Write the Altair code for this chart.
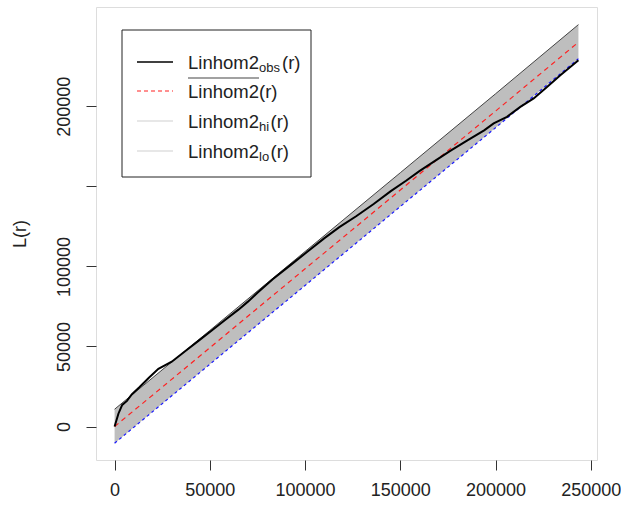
import altair as alt
import pandas as pd

# Distance values r and the observed inhomogeneous L-function
r_obs = [0, 2000, 4000, 6500, 9000, 13000, 18000, 23000, 30000, 37000, 44000,
         51000, 58000, 65000, 70000, 75000, 83000, 92000, 101000, 110000, 118000,
         127000, 136000, 145000, 153000, 160000, 167000, 176000, 185000, 194000,
         199000, 206000, 213000, 220000, 227000, 234000, 243500]
l_obs = [0, 8000, 13500, 16000, 20000, 24500, 30500, 36000, 40500, 47000, 53500,
         60000, 66500, 73000, 78000, 83500, 92000, 100500, 109000, 117500, 124500,
         131500, 139000, 147000, 153500, 159500, 165000, 172000, 178500, 185000,
         189300, 193400, 199600, 204900, 212100, 219400, 228800]

# Theoretical mean and simulation envelope (upper / lower)
r_env = [0, 50000, 100000, 150000, 200000, 243500]
l_theo = [0, 49200, 98500, 147700, 197000, 240000]
l_hi = [10800, 60000, 109300, 158500, 207800, 251000]
l_lo = [-10400, 38900, 88100, 137400, 186600, 229700]

obs = pd.DataFrame({"r": r_obs, "L": l_obs})
env = pd.DataFrame({"r": r_env, "theo": l_theo, "hi": l_hi, "lo": l_lo})

FONT = "Liberation Sans"
XDOM = [-9760, 253250]
YDOM = [-20900, 262000]

xs = alt.Scale(domain=XDOM, nice=False, zero=False)
ys = alt.Scale(domain=YDOM, nice=False, zero=False)

x_axis = alt.Axis(values=[0, 50000, 100000, 150000, 200000, 250000], format="d",
                  title=None, grid=False, domain=False, tickSize=10,
                  tickColor="#333", labelColor="#222", labelFont=FONT,
                  labelFontSize=18, labelPadding=11)
y_axis = alt.Axis(values=[0, 50000, 100000, 150000, 200000], format="d",
                  labelExpr="datum.value == 150000 ? '' : datum.label",
                  title="L(r)", titleFont=FONT, titleFontSize=18,
                  titleFontWeight="normal", titleColor="#222", titlePadding=26,
                  grid=False, domain=False, tickSize=10, tickColor="#333",
                  labelColor="#222", labelFont=FONT, labelFontSize=18,
                  labelAngle=270, labelAlign="center", labelBaseline="bottom",
                  labelPadding=13)

base_env = alt.Chart(env)

band = base_env.mark_area(color="#bebebe", opacity=1).encode(
    x=alt.X("r:Q", scale=xs, axis=x_axis),
    y=alt.Y("lo:Q", scale=ys, axis=y_axis),
    y2="hi:Q",
)
hi_line = base_env.mark_line(color="#444", strokeWidth=1).encode(
    x=alt.X("r:Q", scale=xs), y=alt.Y("hi:Q", scale=ys))
lo_line = base_env.mark_line(color="#1a1aff", strokeWidth=1.2, strokeDash=[3, 3]).encode(
    x=alt.X("r:Q", scale=xs), y=alt.Y("lo:Q", scale=ys))
theo_line = base_env.mark_line(color="#ff2020", strokeWidth=1.2, strokeDash=[5, 4]).encode(
    x=alt.X("r:Q", scale=xs), y=alt.Y("theo:Q", scale=ys))
obs_line = alt.Chart(obs).mark_line(color="black", strokeWidth=2).encode(
    x=alt.X("r:Q", scale=xs), y=alt.Y("L:Q", scale=ys))

# Legend box drawn in pixel space
one = pd.DataFrame({"k": [0]})
leg_box = alt.Chart(one).mark_rect(fill="white", stroke="#222", strokeWidth=1).encode(
    x=alt.value(26), x2=alt.value(215), y=alt.value(23), y2=alt.value(170))

leg_y = [55, 84, 114, 144]
leg_lines = [
    ("black", 1.6, None),
    ("#ff2020", 1.2, [4, 3]),
    ("#d0d0d0", 1.2, None),
    ("#d0d0d0", 1.2, None),
]
layers = [band, hi_line, lo_line, theo_line, obs_line, leg_box]
for yy, (col, w, dash) in zip(leg_y, leg_lines):
    kw = dict(color=col, strokeWidth=w)
    if dash:
        kw["strokeDash"] = dash
    layers.append(alt.Chart(one).mark_rule(**kw).encode(
        x=alt.value(41), x2=alt.value(77), y=alt.value(yy)))

main_labels = ["Linhom2", "Linhom2", "Linhom2", "Linhom2"]
subs = ["obs", "", "hi", "lo"]
paren_x = [186, 163, 174.5, 174.5]
TX = 92
for yy, lab, sub, px in zip(leg_y, main_labels, subs, paren_x):
    layers.append(alt.Chart(one).mark_text(
        text=lab, font=FONT, fontSize=18.5, color="#222", align="left",
        baseline="middle").encode(x=alt.value(TX), y=alt.value(yy + 0.5)))
    if sub:
        layers.append(alt.Chart(one).mark_text(
            text=sub, font=FONT, fontSize=13, color="#222", align="left",
            baseline="middle").encode(x=alt.value(TX + 71), y=alt.value(yy + 6)))
    layers.append(alt.Chart(one).mark_text(
        text="(r)", font=FONT, fontSize=18.5, color="#222", align="left",
        baseline="middle").encode(x=alt.value(px), y=alt.value(yy + 0.5)))

# Overline on the mean curve label
layers.append(alt.Chart(one).mark_rule(color="#444", strokeWidth=1.2).encode(
    x=alt.value(TX), x2=alt.value(TX + 71), y=alt.value(leg_y[1] - 13)))

chart = alt.layer(*layers).properties(
    width=501, height=453,
    padding={"left": 96, "top": 7, "right": 24, "bottom": 50},
    autosize="none",
).configure_view(stroke="#222", strokeWidth=1).configure(background="white")

chart.save("out.html", embed_options={"renderer": "svg", "actions": False})
